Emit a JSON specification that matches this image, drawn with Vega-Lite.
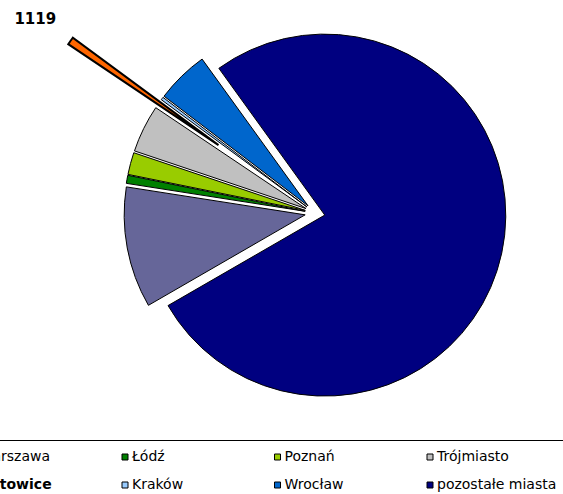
{
  "$schema": "https://vega.github.io/schema/vega-lite/v6.json",
  "width": 400,
  "height": 400,
  "autosize": "none",
  "padding": {"left": 115, "top": 13, "right": 48, "bottom": 81},
  "background": "white",
  "config": {"view": {"stroke": null}, "font": "DejaVu Sans"},
  "data": {"values": [
    {"idx": 1, "city": "Warszawa", "value": 17403},
    {"idx": 2, "city": "Łódź", "value": 1164},
    {"idx": 3, "city": "Poznań", "value": 3178},
    {"idx": 4, "city": "Trójmiasto", "value": 6848},
    {"idx": 5, "city": "Katowice", "value": 1119},
    {"idx": 6, "city": "Kraków", "value": 403},
    {"idx": 7, "city": "Wrocław", "value": 7564},
    {"idx": 8, "city": "pozostałe miasta", "value": 123457}
  ]},
  "transform": [
    {"stack": "value", "groupby": [], "sort": [{"field": "idx", "order": "ascending"}], "as": ["v0", "v1"]}
  ],
  "layer": [
    {
      "encoding": {
        "theta": {"field": "v0", "type": "quantitative", "scale": {"range": [4.18879, 10.47198]}},
        "theta2": {"field": "v1"},
        "fill": {
          "field": "city", "type": "nominal",
          "scale": {
            "domain": ["Warszawa", "Łódź", "Poznań", "Trójmiasto", "Katowice", "Kraków", "Wrocław", "pozostałe miasta"],
            "range": ["#666699", "#008000", "#99CC00", "#C0C0C0", "#FF6600", "#99CCFF", "#0066CC", "#000080"]
          },
          "legend": {
            "title": null,
            "orient": "none",
            "legendX": -159.5,
            "legendY": 427,
            "direction": "horizontal",
            "columns": 4,
            "gridAlign": "all",
            "columnPadding": 18.5,
            "rowPadding": 14,
            "padding": 10,
            "strokeColor": "black",
            "symbolType": "square",
            "symbolSize": 36,
            "symbolStrokeColor": "black",
            "symbolStrokeWidth": 1,
            "symbolOpacity": 1,
            "labelFont": "DejaVu Sans",
            "labelFontSize": 14,
            "labelColor": "black",
            "labelOffset": 0,
            "labelLimit": 300,
            "encode": {"labels": {"update": {"fontWeight": {"signal": "datum.label === 'Katowice' ? 'bold' : 'normal'"}}}}
          }
        }
      },
      "layer": [
        {"transform": [{"filter": "datum.city === 'Warszawa'"}], "mark": {"type": "arc", "outerRadius": 181, "stroke": "black", "strokeWidth": 1, "xOffset": -9.83, "yOffset": 1.83}},
        {"transform": [{"filter": "datum.city === 'Łódź'"}], "mark": {"type": "arc", "outerRadius": 181, "stroke": "black", "strokeWidth": 1, "xOffset": -9.84, "yOffset": -1.7}},
        {"transform": [{"filter": "datum.city === 'Poznań'"}], "mark": {"type": "arc", "outerRadius": 181, "stroke": "black", "strokeWidth": 1, "xOffset": -9.66, "yOffset": -2.59}},
        {"transform": [{"filter": "datum.city === 'Trójmiasto'"}], "mark": {"type": "arc", "outerRadius": 181, "stroke": "black", "strokeWidth": 1, "xOffset": -8.97, "yOffset": -4.42}},
        {"transform": [{"filter": "datum.city === 'Kraków'"}], "mark": {"type": "arc", "outerRadius": 181, "stroke": "black", "strokeWidth": 1, "xOffset": -8.0, "yOffset": -5.99}},
        {"transform": [{"filter": "datum.city === 'Wrocław'"}], "mark": {"type": "arc", "outerRadius": 181, "stroke": "black", "strokeWidth": 1, "xOffset": -6.98, "yOffset": -7.16}},
        {"transform": [{"filter": "datum.city === 'pozostałe miasta'"}], "mark": {"type": "arc", "outerRadius": 181, "stroke": "black", "strokeWidth": 1, "xOffset": 9.78, "yOffset": 2.09}},
        {"transform": [{"filter": "datum.city === 'Katowice'"}], "mark": {"type": "arc", "outerRadius": 181, "stroke": "black", "strokeWidth": 2, "xOffset": -96.5, "yOffset": -67.9}}
      ]
    },
    {
      "mark": {"type": "text", "radius": 342, "dy": 3, "font": "DejaVu Sans", "fontSize": 15, "fontWeight": "bold", "color": "black", "align": "center", "baseline": "middle"},
      "encoding": {
        "theta": {"field": "value", "type": "quantitative", "stack": true, "scale": {"range": [4.18879, 10.47198]}},
        "order": {"field": "idx", "type": "quantitative"},
        "text": {"condition": {"test": "datum.city === 'Katowice'", "field": "value", "type": "quantitative"}, "value": ""}
      }
    }
  ]
}
